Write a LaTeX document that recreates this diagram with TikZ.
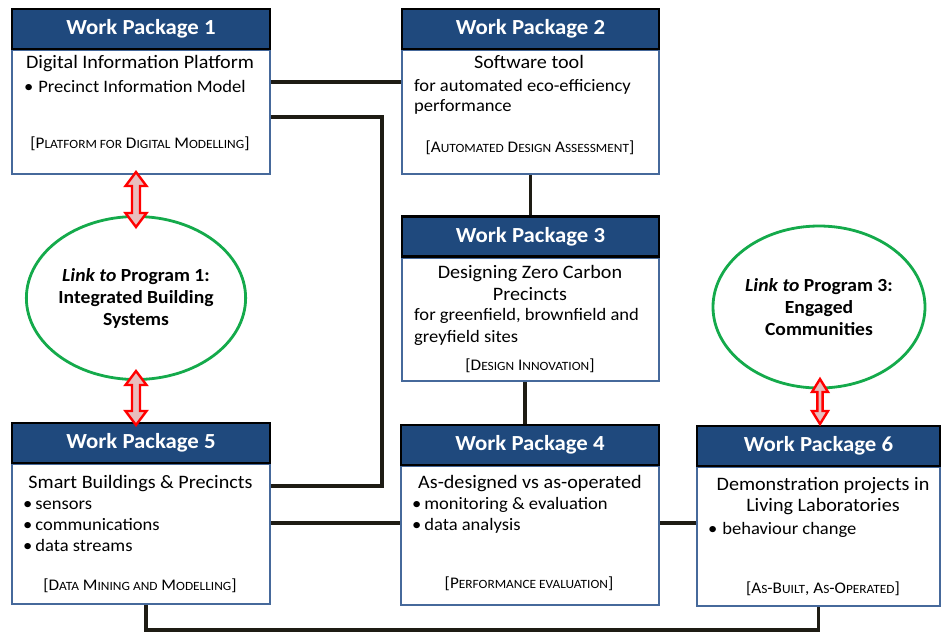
\documentclass[tikz,border=0pt]{standalone}
\usepackage{fontspec}
\setmainfont{Carlito}[FakeStretch=1.06]
\usetikzlibrary{shapes.geometric,calc}
\pgfdeclarelayer{background}
\pgfsetlayers{background,main}
\definecolor{wpblue}{RGB}{31,73,125}
\definecolor{wpedge}{RGB}{70,105,155}
\definecolor{conn}{RGB}{30,28,20}
\definecolor{lgreen}{RGB}{20,170,75}
\definecolor{arrred}{RGB}{255,0,0}
\definecolor{arrfill}{RGB}{232,190,190}
\newcommand\smc[1]{{\fontsize{12.6}{14}\selectfont\MakeUppercase{#1}}}
\newcommand\dblarr[5]{\draw[blockarr] (#1) -- ($(#1)+(#3,#5)$) -- ($(#1)+(#4,#5)$) -- ($(#2)+(#4,-#5)$) -- ($(#2)+(#3,-#5)$) -- (#2) -- ($(#2)+(-#3,-#5)$) -- ($(#2)+(-#4,-#5)$) -- ($(#1)+(-#4,#5)$) -- ($(#1)+(-#3,#5)$) -- cycle;}
\begin{document}
\begin{tikzpicture}[x=1pt,y=-1pt,
  hdr/.style={draw=black, line width=2.8pt, fill=wpblue, text=white, font=\bfseries\fontsize{21.5}{26}\selectfont, inner sep=0, minimum height=40},
  bodyb/.style={draw=wpedge, line width=1.8pt, fill=white, inner sep=0, anchor=north},
  txt/.style={font=\fontsize{19}{22}\selectfont, inner sep=0},
  txtb/.style={font=\fontsize{17.5}{22}\selectfont, inner sep=0, anchor=base west},
  brk/.style={font=\fontsize{16.2}{18}\selectfont, inner sep=0, anchor=base},
  link/.style={ellipse, draw=lgreen, line width=2.8pt, fill=white, align=center, font=\bfseries\fontsize{18.5}{22}\selectfont, inner sep=0},
  wire/.style={draw=conn, line width=3.6pt, line join=miter},
  blockarr/.style={draw=arrred, line width=2.4pt, fill=arrfill, line join=miter}]
\begin{pgfonlayer}{background}
\fill[white] (0,0) rectangle (942,633);
\end{pgfonlayer}
\useasboundingbox (0,0) rectangle (942,633);

% WP1
\node[bodyb, minimum width=258, minimum height=124] (b1) at (141,49) {};
\node[hdr, minimum width=258] (h1) at (141,29) {Work Package 1};
\node[txt, anchor=base] (t1a) at (140,68) {Digital Information Platform};
\node[txtb] (t1b) at (24,92) {•\;Precinct Information Model};
\node[brk] (s1) at (140,148) {[P\smc{latform for} D\smc{igital} M\smc{odelling}]};

% WP2
\node[bodyb, minimum width=257, minimum height=124] (b2) at (530.5,49) {};
\node[hdr, minimum width=257] (h2) at (530.5,29) {Work Package 2};
\node[txt, anchor=base] (t2a) at (529,68) {Software tool};
\node[txtb] (t2b) at (414,91) {for automated eco-efficiency};
\node[txtb] (t2c) at (414,111) {performance};
\node[brk] (s2) at (530,152) {[A\smc{utomated} D\smc{esign} A\smc{ssessment}]};

% WP3
\node[bodyb, minimum width=257, minimum height=123] (b3) at (530.5,257) {};
\node[hdr, minimum width=257] (h3) at (530.5,236.5) {Work Package 3};
\node[txt, anchor=base] (t3a) at (530,278) {Designing Zero Carbon};
\node[txt, anchor=base] (t3b) at (530,300) {Precincts};
\node[txtb] (t3c) at (414,320) {for greenfield, brownfield and};
\node[txtb] (t3d) at (414,342) {greyfield sites};
\node[brk] (s3) at (530,370) {[D\smc{esign} I\smc{nnovation}]};

% WP5
\node[bodyb, minimum width=258, minimum height=140] (b5) at (141,463) {};
\node[hdr, minimum width=258] (h5) at (141,443) {Work Package 5};
\node[txt, anchor=base] (t5a) at (140.5,488) {Smart Buildings \& Precincts};
\node[txtb] (t5b) at (23,509) {•\,sensors};
\node[txtb] (t5c) at (23,530) {•\,communications};
\node[txtb] (t5d) at (23,551) {•\,data streams};
\node[brk] (s5) at (140,590) {[D\smc{ata} M\smc{ining and} M\smc{odelling}]};

% WP4
\node[bodyb, minimum width=258, minimum height=139] (b4) at (530,465) {};
\node[hdr, minimum width=258] (h4) at (530,445) {Work Package 4};
\node[txt, anchor=base] (t4a) at (530,488) {As-designed vs as-operated};
\node[txtb] (t4b) at (412,509) {•\,monitoring \& evaluation};
\node[txtb] (t4c) at (412,530) {•\,data analysis};
\node[brk] (s4) at (529,588) {[P\smc{erformance evaluation}]};

% WP6
\node[bodyb, minimum width=243, minimum height=139] (b6) at (818.5,466) {};
\node[hdr, minimum width=243] (h6) at (818.5,446) {Work Package 6};
\node[txt, anchor=base] (t6a) at (823,490) {Demonstration projects in};
\node[txt, anchor=base] (t6b) at (823,511) {Living Laboratories};
\node[txtb] (t6c) at (708,534) {•\;behaviour change};
\node[brk] (s6) at (823,593) {[A\smc{s}-B\smc{uilt}, A\smc{s}-O\smc{perated}]};

% Links
\node[link, minimum width=211, minimum height=163] (e1) at (136,298) {\textit{Link to} Program 1:\\Integrated Building\\Systems};
\node[link, minimum width=212, minimum height=162] (e2) at (819,307) {\textit{Link to} Program 3:\\Engaged\\Communities};

% connectors
\begin{pgfonlayer}{background}
\draw[wire] (b1.east |- 0,82) -- (b2.west |- 0,82);
\draw[wire] (b1.east |- 0,117) -| (382,300) |- (b5.east |- 0,486);
\draw[wire] (b2.south) -- (h3.north);
\draw[wire] (b3.south -| 525,0) -- (h4.north -| 525,0);
\draw[wire] (b5.east |- 0,523) -- (b4.west |- 0,523);
\draw[wire] (b4.east |- 0,523) -- (b6.west |- 0,523);
\draw[wire] (b5.south -| 146,0) |- (b6.south |- 0,630) -- (b6.south);
\end{pgfonlayer}

% double arrows
\coordinate (a1t) at (136,172);
\coordinate (a1b) at (136,227);
\coordinate (a2t) at (136,371);
\coordinate (a2b) at (136,425);
\coordinate (a3t) at (820,379);
\coordinate (a3b) at (820,424);
\dblarr{a1t}{a1b}{10.5}{4}{14}
\dblarr{a2t}{a2b}{10.5}{4}{14}
\dblarr{a3t}{a3b}{8}{2.6}{13}
\end{tikzpicture}
\end{document}
